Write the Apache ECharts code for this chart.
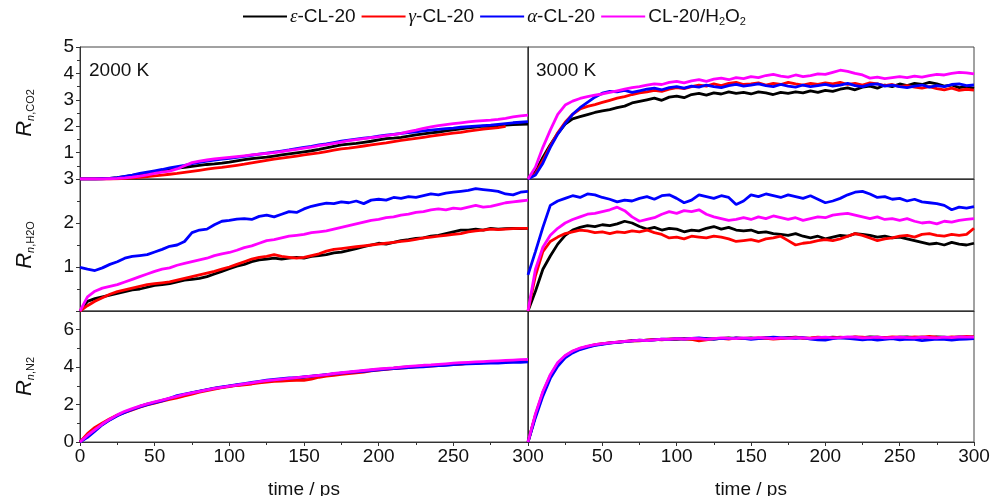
<!DOCTYPE html>
<html><head><meta charset="utf-8">
<script src="https://cdn.jsdelivr.net/npm/echarts@6/dist/echarts.min.js"></script>
<style>html,body{margin:0;padding:0;background:#fff}#c{width:991px;height:496px}</style>
</head><body><div id="c"></div>
<script>
const time = [0,5,10,15,20,25,30,35,40,45,50,55,60,65,70,75,80,85,90,95,100,105,110,115,120,125,130,135,140,145,150,155,160,165,170,175,180,185,190,195,200,205,210,215,220,225,230,235,240,245,250,255,260,265,270,275,280,285,290,295,300];
const seriesNames = ['ε-CL-20','γ-CL-20','α-CL-20','CL-20/H2O2'];
const panelTitles = ['2000 K','3000 K'];
const yTicksCO2 = [0,5,1];
const yTicksH2O = [0,3,1];
const yTicksN2 = [0,7,2];

// CO2, 2000 K
const co2_2000_eps = [0,0,0,0.01,0.02,0.05,0.09,0.14,0.18,0.23, 0.27,0.32,0.36,0.41,0.44,0.48,0.52,0.55,0.57,0.6, 0.64,0.69,0.73,0.77,0.8,0.83,0.87,0.91,0.95,0.99, 1.03,1.07,1.12,1.18,1.24,1.29,1.32,1.35,1.39,1.43, 1.48,1.53,1.55,1.58,1.62,1.67,1.71,1.75,1.78,1.82, 1.86,1.9,1.94,1.97,2.0,1.98,2.02,2.04,2.06,2.07, 2.08];
const co2_2000_gam = [0,0,0,0,0,0.01,0.02,0.04,0.06,0.09, 0.12,0.15,0.18,0.21,0.25,0.29,0.33,0.37,0.41,0.44, 0.48,0.52,0.56,0.61,0.66,0.71,0.75,0.79,0.83,0.87, 0.91,0.95,0.99,1.04,1.09,1.14,1.17,1.21,1.25,1.29, 1.33,1.37,1.42,1.46,1.5,1.54,1.58,1.62,1.66,1.7, 1.74,1.77,1.81,1.85,1.89,1.92,1.95,1.99,null,null, null];
const co2_2000_alp = [0,0,0,0.01,0.02,0.05,0.1,0.15,0.21,0.26, 0.31,0.36,0.42,0.47,0.52,0.58,0.63,0.68,0.72,0.75, 0.78,0.82,0.86,0.9,0.94,0.98,1.02,1.06,1.1,1.15, 1.2,1.24,1.29,1.33,1.38,1.43,1.47,1.51,1.55,1.58, 1.62,1.66,1.69,1.73,1.76,1.79,1.82,1.85,1.88,1.91, 1.93,1.96,1.98,2.0,2.02,2.04,2.07,2.1,2.13,2.15, 2.17];
const co2_2000_h2o2 = [0,0,0,0,0.01,0.02,0.04,0.07,0.11,0.16, 0.21,0.26,0.3,0.38,0.5,0.62,0.68,0.72,0.76,0.79, 0.82,0.85,0.88,0.91,0.94,0.97,1.0,1.04,1.08,1.12, 1.17,1.21,1.26,1.3,1.35,1.4,1.45,1.49,1.53,1.57, 1.6,1.64,1.68,1.73,1.79,1.85,1.92,1.97,2.02,2.06, 2.1,2.13,2.16,2.19,2.21,2.23,2.26,2.3,2.35,2.39, 2.42];
// CO2, 3000 K
const co2_3000_eps = [0,0.28,0.82,1.3,1.72,2.08,2.28,2.36,2.44,2.52, 2.58,2.63,2.7,2.76,2.88,2.94,3.0,3.06,2.98,3.1, 3.14,3.08,3.2,3.24,3.18,3.26,3.22,3.3,3.24,3.28, 3.22,3.3,3.26,3.2,3.28,3.24,3.3,3.26,3.34,3.28, 3.36,3.32,3.4,3.45,3.38,3.48,3.52,3.44,3.56,3.5, 3.6,3.54,3.62,3.58,3.66,3.6,3.52,3.56,3.46,3.5, 3.43];
const co2_3000_gam = [0,0.2,0.7,1.25,1.75,2.15,2.45,2.65,2.75,2.82, 2.9,2.98,3.06,3.12,3.2,3.26,3.3,3.36,3.32,3.4, 3.46,3.42,3.5,3.56,3.52,3.6,3.54,3.62,3.66,3.58, 3.6,3.64,3.56,3.62,3.58,3.66,3.6,3.56,3.62,3.58, 3.64,3.6,3.66,3.58,3.62,3.56,3.64,3.6,3.54,3.58, 3.5,3.54,3.48,3.44,3.5,3.42,3.38,3.44,3.36,3.4, 3.37];
const co2_3000_alp = [0,0.15,0.6,1.2,1.7,2.1,2.45,2.7,2.9,3.1, 3.25,3.32,3.3,3.36,3.28,3.34,3.4,3.44,3.38,3.46, 3.5,3.44,3.52,3.48,3.56,3.5,3.46,3.54,3.58,3.52, 3.56,3.6,3.54,3.5,3.58,3.52,3.48,3.56,3.5,3.54, 3.58,3.52,3.56,3.62,3.54,3.5,3.58,3.6,3.52,3.56, 3.5,3.46,3.52,3.56,3.48,3.54,3.5,3.58,3.6,3.54, 3.56];
const co2_3000_h2o2 = [0,0.45,1.2,1.85,2.45,2.8,2.95,3.05,3.12,3.18, 3.22,3.28,3.34,3.4,3.46,3.5,3.56,3.6,3.58,3.66, 3.7,3.64,3.72,3.76,3.7,3.78,3.82,3.76,3.84,3.8, 3.88,3.84,3.92,3.96,3.9,3.86,3.94,3.88,3.92,3.98, 3.96,4.04,4.12,4.08,4.0,3.94,3.82,3.86,3.8,3.84, 3.88,3.84,3.9,3.86,3.92,3.96,3.94,4.0,4.04,4.02, 3.98];
// H2O, 2000 K
const h2o_2000_eps = [0,0.22,0.28,0.32,0.36,0.4,0.44,0.48,0.5,0.54, 0.58,0.6,0.62,0.66,0.7,0.72,0.74,0.78,0.84,0.9, 0.96,1.02,1.06,1.12,1.16,1.18,1.2,1.18,1.2,1.22, 1.2,1.24,1.26,1.28,1.32,1.34,1.38,1.42,1.46,1.5, 1.54,1.52,1.56,1.6,1.62,1.65,1.66,1.7,1.72,1.76, 1.8,1.84,1.84,1.86,1.84,1.88,1.86,1.87,1.88,1.87, 1.88];
const h2o_2000_gam = [0,0.12,0.22,0.3,0.38,0.44,0.48,0.52,0.56,0.6, 0.62,0.64,0.66,0.7,0.74,0.78,0.82,0.86,0.9,0.95, 1.0,1.06,1.12,1.18,1.22,1.24,1.28,1.24,1.22,1.2, 1.22,1.26,1.3,1.36,1.4,1.42,1.44,1.46,1.48,1.5, 1.52,1.54,1.56,1.58,1.6,1.63,1.66,1.68,1.7,1.72, 1.74,1.76,1.8,1.82,1.84,1.86,1.85,1.86,1.87,1.88, 1.88];
const h2o_2000_alp = [0.99,0.95,0.92,0.98,1.06,1.12,1.2,1.24,1.26,1.28, 1.34,1.4,1.47,1.5,1.58,1.78,1.84,1.86,1.96,2.04, 2.06,2.09,2.1,2.08,2.15,2.18,2.14,2.2,2.26,2.24, 2.32,2.38,2.42,2.45,2.44,2.48,2.46,2.5,2.44,2.52, 2.54,2.52,2.58,2.56,2.6,2.58,2.62,2.66,2.64,2.68, 2.7,2.72,2.74,2.78,2.76,2.74,2.72,2.66,2.64,2.7, 2.72];
const h2o_2000_h2o2 = [0,0.32,0.45,0.52,0.56,0.6,0.66,0.72,0.78,0.84, 0.9,0.95,0.98,1.04,1.08,1.12,1.16,1.2,1.26,1.3, 1.33,1.38,1.44,1.48,1.54,1.6,1.62,1.66,1.7,1.72, 1.74,1.78,1.8,1.82,1.86,1.9,1.94,1.98,2.02,2.06, 2.08,2.12,2.14,2.18,2.2,2.24,2.26,2.3,2.32,2.3, 2.34,2.32,2.36,2.4,2.36,2.38,2.42,2.46,2.48,2.5, 2.52];
// H2O, 3000 K
const h2o_3000_eps = [0,0.45,0.95,1.25,1.52,1.72,1.84,1.9,1.94,1.92, 1.96,1.94,1.98,2.04,2.0,1.92,1.86,1.9,1.84,1.88, 1.86,1.8,1.84,1.82,1.88,1.92,1.86,1.9,1.84,1.82, 1.84,1.78,1.8,1.76,1.74,1.72,1.76,1.7,1.66,1.7, 1.64,1.68,1.72,1.7,1.76,1.74,1.72,1.68,1.7,1.66, 1.68,1.64,1.6,1.56,1.52,1.54,1.5,1.56,1.52,1.5, 1.54];
const h2o_3000_gam = [0,0.8,1.35,1.58,1.68,1.76,1.8,1.84,1.82,1.78, 1.8,1.76,1.8,1.78,1.82,1.8,1.84,1.78,1.74,1.66, 1.68,1.64,1.7,1.68,1.66,1.7,1.68,1.64,1.58,1.6, 1.62,1.58,1.64,1.66,1.7,1.6,1.5,1.54,1.56,1.6, 1.62,1.6,1.64,1.7,1.76,1.72,1.66,1.6,1.64,1.66, 1.7,1.72,1.68,1.74,1.76,1.72,1.7,1.74,1.72,1.74, 1.88];
const h2o_3000_alp = [0.82,1.35,1.9,2.4,2.5,2.56,2.62,2.58,2.66,2.64, 2.58,2.54,2.48,2.52,2.5,2.56,2.6,2.54,2.62,2.64, 2.56,2.46,2.52,2.64,2.6,2.56,2.62,2.58,2.42,2.5, 2.64,2.6,2.66,2.62,2.58,2.64,2.6,2.56,2.62,2.54, 2.46,2.5,2.56,2.64,2.7,2.72,2.66,2.58,2.6,2.54, 2.56,2.5,2.54,2.48,2.46,2.44,2.4,2.3,2.36,2.34, 2.37];
const h2o_3000_h2o2 = [0,0.95,1.45,1.72,1.88,2.0,2.08,2.14,2.2,2.22, 2.26,2.3,2.36,2.28,2.14,2.04,2.08,2.12,2.2,2.26, 2.22,2.28,2.26,2.3,2.2,2.14,2.1,2.06,2.08,2.12, 2.08,2.14,2.1,2.16,2.12,2.08,2.12,2.06,2.1,2.14, 2.12,2.18,2.2,2.22,2.18,2.14,2.1,2.14,2.08,2.1, 2.06,2.1,2.04,2.0,2.02,1.98,2.04,2.02,2.06,2.08, 2.1];
// N2, 2000 K
const n2_2000_eps = [0,0.35,0.65,0.95,1.2,1.42,1.6,1.75,1.9,2.02, 2.12,2.22,2.32,2.42,2.52,2.62,2.7,2.78,2.86,2.92, 2.98,3.04,3.08,3.14,3.2,3.26,3.3,3.34,3.38,3.42, 3.46,3.5,3.54,3.58,3.64,3.68,3.72,3.76,3.8,3.84, 3.88,3.91,3.94,3.98,4.01,4.04,4.06,4.08,4.1,4.13, 4.16,4.18,4.2,4.22,4.24,4.26,4.28,4.3,4.31,4.32, 4.34];
const n2_2000_gam = [0,0.45,0.78,1.02,1.24,1.44,1.58,1.72,1.86,1.98, 2.08,2.18,2.28,2.36,2.46,2.56,2.66,2.74,2.82,2.9, 2.96,3.02,3.06,3.1,3.16,3.2,3.24,3.26,3.28,3.3, 3.3,3.36,3.46,3.52,3.56,3.62,3.66,3.7,3.74,3.8, 3.84,3.88,3.92,3.95,3.98,4.02,4.04,4.06,4.08,4.12, 4.14,4.16,4.2,4.22,4.24,4.26,4.28,4.3,4.32,4.34, 4.36];
const n2_2000_alp = [0,0.25,0.58,0.92,1.18,1.4,1.58,1.74,1.88,2.0, 2.1,2.2,2.34,2.48,2.56,2.64,2.72,2.8,2.88,2.94, 3.0,3.06,3.12,3.18,3.24,3.3,3.34,3.38,3.42,3.44, 3.48,3.52,3.56,3.6,3.64,3.68,3.72,3.75,3.78,3.82, 3.86,3.89,3.92,3.95,3.98,4.0,4.02,4.05,4.08,4.1, 4.14,4.16,4.18,4.19,4.2,4.21,4.22,4.24,4.25,4.26, 4.28];
const n2_2000_h2o2 = [0,0.35,0.66,0.96,1.22,1.45,1.64,1.78,1.92,2.04, 2.14,2.24,2.34,2.44,2.54,2.62,2.7,2.78,2.86,2.92, 2.98,3.04,3.1,3.16,3.22,3.28,3.32,3.36,3.4,3.44, 3.48,3.52,3.56,3.6,3.66,3.7,3.74,3.78,3.82,3.86, 3.9,3.93,3.96,4.0,4.04,4.07,4.1,4.12,4.15,4.18, 4.21,4.24,4.26,4.28,4.3,4.32,4.34,4.36,4.38,4.4, 4.42];
// N2, 3000 K
const n2_3000_eps = [0,1.4,2.6,3.5,4.15,4.55,4.8,4.98,5.1,5.18, 5.24,5.3,5.32,5.36,5.4,5.42,5.44,5.46,5.48,5.5, 5.48,5.52,5.5,5.54,5.52,5.5,5.54,5.56,5.52,5.54, 5.56,5.52,5.58,5.56,5.54,5.58,5.6,5.56,5.54,5.58, 5.56,5.6,5.58,5.56,5.6,5.58,5.62,5.6,5.58,5.56, 5.6,5.62,5.58,5.6,5.58,5.62,5.6,5.58,5.62,5.6, 5.62];
const n2_3000_gam = [0,1.45,2.65,3.55,4.2,4.6,4.84,5.0,5.1,5.2, 5.26,5.3,5.34,5.38,5.42,5.4,5.44,5.48,5.46,5.5, 5.52,5.5,5.48,5.4,5.46,5.52,5.54,5.5,5.56,5.54, 5.52,5.56,5.54,5.5,5.52,5.56,5.58,5.54,5.56,5.6, 5.58,5.56,5.6,5.58,5.62,5.6,5.56,5.6,5.58,5.62, 5.6,5.58,5.62,5.6,5.64,5.6,5.58,5.62,5.6,5.64, 5.62];
const n2_3000_alp = [0,1.3,2.45,3.4,4.05,4.5,4.76,4.94,5.06,5.16, 5.22,5.28,5.32,5.36,5.4,5.44,5.42,5.46,5.5,5.48, 5.52,5.5,5.54,5.56,5.52,5.5,5.54,5.52,5.56,5.54, 5.48,5.52,5.56,5.6,5.58,5.56,5.54,5.58,5.5,5.46, 5.44,5.52,5.56,5.54,5.5,5.46,5.5,5.44,5.48,5.52, 5.46,5.5,5.48,5.42,5.46,5.5,5.48,5.44,5.48,5.5, 5.52];
const n2_3000_h2o2 = [0,1.5,2.7,3.6,4.25,4.62,4.86,5.02,5.12,5.2, 5.26,5.3,5.34,5.38,5.4,5.44,5.42,5.46,5.5,5.48, 5.52,5.5,5.54,5.52,5.48,5.52,5.56,5.54,5.52,5.56, 5.54,5.58,5.56,5.52,5.56,5.54,5.58,5.56,5.54,5.58, 5.6,5.56,5.58,5.62,5.6,5.56,5.58,5.6,5.56,5.58, 5.6,5.58,5.56,5.6,5.58,5.56,5.6,5.58,5.62,5.6, 5.6];

const panels = [
  [co2_2000_eps,co2_2000_gam,co2_2000_alp,co2_2000_h2o2],
  [co2_3000_eps,co2_3000_gam,co2_3000_alp,co2_3000_h2o2],
  [h2o_2000_eps,h2o_2000_gam,h2o_2000_alp,h2o_2000_h2o2],
  [h2o_3000_eps,h2o_3000_gam,h2o_3000_alp,h2o_3000_h2o2],
  [n2_2000_eps,n2_2000_gam,n2_2000_alp,n2_2000_h2o2],
  [n2_3000_eps,n2_3000_gam,n2_3000_alp,n2_3000_h2o2]
];
const colors = ['#000000','#ff0000','#0000ff','#ff00ff'];
const FONT = 'Liberation Sans, Arial, sans-serif';
const rowTop = [47,179,311];
const rowH = [132,132,131];
const colLeft = [80,528];
const colW = [448,446];
const yRanges = [yTicksCO2,yTicksH2O,yTicksN2];
const yNames = ['{r|R}{n|n}{s|,CO2}','{r|R}{n|n}{s|,H2O}','{r|R}{n|n}{s|,N2}'];

const grids=[],xAxes=[],yAxes=[],series=[];
for(let p=0;p<6;p++){
  const row=Math.floor(p/2), col=p%2;
  grids.push({left:colLeft[col],top:rowTop[row],width:colW[col],height:rowH[row],show:true,borderColor:'#444',borderWidth:1,backgroundColor:'transparent',outerBoundsMode:'none',containLabel:false});
  const bottom = row===2;
  xAxes.push({gridIndex:p,type:'value',min:0,max:300,interval:50,
    axisLine:{show:true,lineStyle:{color:'#333',width:1}},
    axisTick:{show:bottom,length:4,lineStyle:{color:'#333'}},
    minorTick:{show:bottom,splitNumber:2,length:3,lineStyle:{color:'#333'}},
    splitLine:{show:false},
    axisLabel:{show:bottom,color:'#111',fontSize:19,fontFamily:FONT,margin:5,
      formatter:v=>(col===1&&v===0)?'':String(v)},
    name:bottom?'time / ps':'',nameLocation:'middle',nameGap:38,
    nameTextStyle:{color:'#111',fontSize:19,fontFamily:FONT}
  });
  const yr=yRanges[row];
  yAxes.push({gridIndex:p,type:'value',min:yr[0],max:yr[1],interval:yr[2],
    axisLine:{show:true,lineStyle:{color:'#333',width:1}},
    axisTick:{show:col===0,length:4,lineStyle:{color:'#333'}},
    minorTick:{show:col===0,splitNumber:2,length:3,lineStyle:{color:'#333'}},
    splitLine:{show:false},
    axisLabel:{show:col===0,color:'#111',fontSize:19,fontFamily:FONT,margin:6,
      formatter:v=>{ if(row<2&&v===0) return ''; if(v===yr[1]&&(v-yr[0])%yr[2]!==0) return ''; return String(v);} },
    name:col===0?yNames[row]:'',nameLocation:'middle',nameRotate:90,nameGap:44,
    nameTextStyle:{rich:{
      r:{fontSize:22,fontStyle:'italic',fontFamily:FONT,color:'#111'},
      n:{fontSize:11,fontStyle:'italic',fontFamily:FONT,color:'#111',verticalAlign:'bottom',padding:[8,0,0,0]},
      s:{fontSize:11,fontFamily:FONT,color:'#111',verticalAlign:'bottom',padding:[8,0,0,0]}
    }}
  });
  for(let s=0;s<4;s++){
    series.push({type:'line',name:seriesNames[s],xAxisIndex:p,yAxisIndex:p,
      data:time.map((t,i)=>[t,panels[p][s][i]]),showSymbol:false,symbol:'none',
      lineStyle:{color:colors[s],width:2.8},itemStyle:{color:colors[s]},
      connectNulls:false,animation:false,z:2+s});
  }
}

const legendFmt = {
  'ε-CL-20':'{i|ε}-CL-20',
  'γ-CL-20':'{i|γ}-CL-20',
  'α-CL-20':'{i|α}-CL-20',
  'CL-20/H2O2':'CL-20/H{b|2}O{b|2}'
};

const chart = echarts.init(document.getElementById('c'),null,{renderer:'canvas'});
chart.setOption({
  animation:false,
  backgroundColor:'#fff',
  textStyle:{fontFamily:FONT},
  legend:{data:seriesNames,top:2,left:238,itemGap:6,itemWidth:44,itemHeight:2,icon:'rect',
    formatter:n=>legendFmt[n],
    textStyle:{color:'#111',fontSize:19,fontFamily:FONT,padding:[0,0,0,-2],
      rich:{i:{fontSize:19,fontStyle:'italic',fontFamily:'Liberation Serif, Times New Roman, serif',color:'#111'},
            b:{fontSize:11,fontFamily:FONT,color:'#111',verticalAlign:'bottom',padding:[10,0,0,0]}}}},
  grid:grids,xAxis:xAxes,yAxis:yAxes,series:series,
  graphic:[
    {type:'text',left:89,top:61,style:{text:panelTitles[0],font:'19px '+FONT,fill:'#111'}},
    {type:'text',left:536,top:61,style:{text:panelTitles[1],font:'19px '+FONT,fill:'#111'}}
  ]
});
</script></body></html>
